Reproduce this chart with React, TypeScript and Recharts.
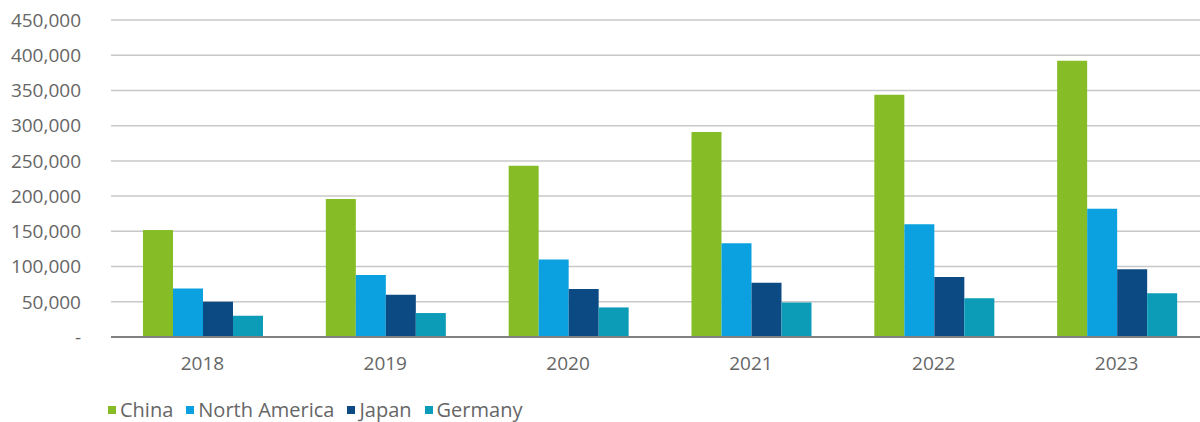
import { BarChart, Bar, XAxis, YAxis, CartesianGrid, Legend } from "recharts";

const years = ["2018", "2019", "2020", "2021", "2022", "2023"];
const china = [152000, 196000, 243000, 291000, 344000, 392000];
const northAmerica = [69000, 88000, 110000, 133000, 160000, 182000];
const japan = [50000, 60000, 68000, 77000, 85000, 96000];
const germany = [30000, 34000, 42000, 49000, 55000, 62000];
const yTicks = [0, 50000, 100000, 150000, 200000, 250000, 300000, 350000, 400000, 450000];

const series = [
  { key: "China", color: "#86BC25", values: china },
  { key: "North America", color: "#0BA0DF", values: northAmerica },
  { key: "Japan", color: "#0C4A84", values: japan },
  { key: "Germany", color: "#0D9CB8", values: germany },
];

const data = years.map((year, i) => {
  const row: Record<string, string | number> = { year };
  series.forEach((s) => (row[s.key] = s.values[i]));
  return row;
});

const font = "'Open Sans', sans-serif";
const textColor = "#666";

function LegendContent() {
  return (
    <div
      style={{
        display: "flex",
        alignItems: "center",
        height: 24,
        lineHeight: "24px",
        paddingTop: 16,
        paddingLeft: 108,
        fontFamily: font,
        fontSize: 20,
        color: textColor,
        whiteSpace: "nowrap",
      }}
    >
      {series.map((s) => (
        <div key={s.key} style={{ display: "flex", alignItems: "center", marginRight: 13 }}>
          <span style={{ display: "inline-block", width: 8, height: 8, background: s.color, marginRight: 4 }} />
          <span>{s.key}</span>
        </div>
      ))}
    </div>
  );
}

export default function App() {
  return (
    <div style={{ position: "absolute", left: 0, top: 0, width: 1200, height: 422, overflow: "hidden", background: "#fff" }}>
      <BarChart
        width={1208}
        height={422}
        data={data}
        margin={{ top: 20, right: 0, left: 0, bottom: 0 }}
        barGap={0}
        barCategoryGap="17.5%"
      >
        <CartesianGrid vertical={false} stroke="#c8c8c8" strokeWidth={1.5} />
        <XAxis
          dataKey="year"
          height={45}
          tickLine={false}
          tickSize={0}
          tickMargin={20}
          axisLine={{ stroke: "#808080", strokeWidth: 2 }}
          tick={{ fill: textColor, fontSize: 19, fontFamily: font }}
        />
        <YAxis
          width={111}
          domain={[0, 450000]}
          ticks={yTicks}
          interval={0}
          axisLine={false}
          tickLine={false}
          tickSize={0}
          tickMargin={30}
          tick={{ fill: textColor, fontSize: 19, fontFamily: font }}
          tickFormatter={(v: number) => (v === 0 ? "-" : v.toLocaleString("en-US"))}
        />
        <Legend verticalAlign="bottom" align="left" wrapperStyle={{ height: 40, left: 0, width: 1200 }} content={<LegendContent />} />
        {series.map((s) => (
          <Bar key={s.key} dataKey={s.key} fill={s.color} isAnimationActive={false} />
        ))}
      </BarChart>
    </div>
  );
}
